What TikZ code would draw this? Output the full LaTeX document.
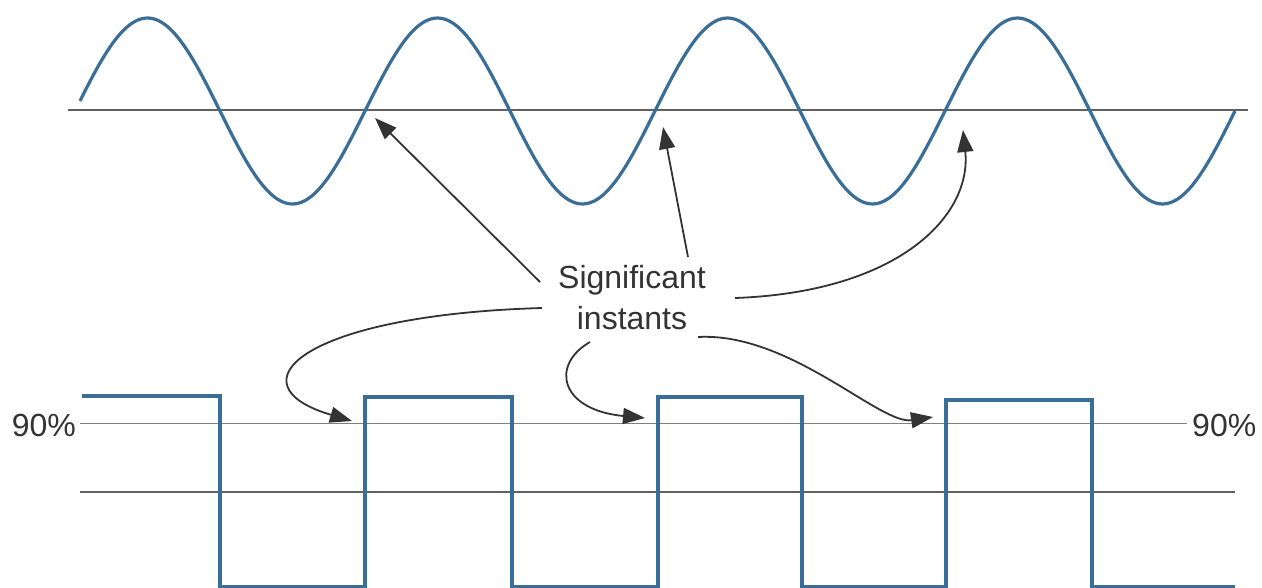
\documentclass[tikz,border=0pt]{standalone}
\usepackage{fontspec}
\setmainfont{Liberation Sans}
\usetikzlibrary{arrows.meta}

\definecolor{wave}{RGB}{58,110,150}
\definecolor{ink}{RGB}{51,51,51}

\begin{document}
\begin{tikzpicture}[
 x=1pt,y=-1pt,
 signal/.style={draw=wave,line width=3.2pt,line join=miter},
 axis/.style={draw=black!62,line width=2pt},
 level/.style={draw=black!50,line width=1pt},
 lbl/.style={font=\fontsize{32}{41}\selectfont,text=ink,inner sep=0pt},
 arrow/.style={draw=ink,line width=1.8pt,-{Triangle[length=22pt,width=16pt]}}
]
\useasboundingbox (0,0) rectangle (1262,587);
% sine signal
\draw[axis] (68,110) -- (1248,110);
\draw[signal] plot[domain=80:1235,samples=320,smooth] (\x,{111-93*sin((\x-75)*1.241379)});
% square signal
\draw[level] (80,423) -- (1187,423);
\draw[axis,line width=2.4pt] (80,492) -- (1235,492);
\draw[signal] (82,396) -- (220,396) -- (220,587) -- (365,587) -- (365,397) -- (512,397)
 -- (512,587) -- (658,587) -- (658,397) -- (802,397) -- (802,587) -- (946,587)
 -- (946,400) -- (1092,400) -- (1092,587) -- (1235,587);
\node[lbl,anchor=east] (pl) at (76,425) {90\%};
\node[lbl,anchor=west] (pr) at (1192,425) {90\%};
% label and arrows
\node[lbl,align=center] (sig) at (632,298) {Significant\\instants};
\coordinate (z1) at (375,118);
\coordinate (z2) at (663,127);
\coordinate (z3) at (963,130);
\coordinate (e1) at (352,421);
\coordinate (e2) at (645,418);
\coordinate (e3) at (933,417);
\coordinate (t1) at (540,282);
\coordinate (t2) at (688,257);
\coordinate (t3) at (735,298);
\coordinate (t4) at (542,308);
\coordinate (t5) at (590,342);
\coordinate (t6) at (698,337);
\draw[arrow] (t1) -- (z1);
\draw[arrow] (t2) -- (z2);
\draw[arrow] (t3) .. controls (900,292) and (972,215) .. (z3);
\draw[arrow] (t4) .. controls (300,315) and (230,385) .. (e1);
\draw[arrow] (t5) .. controls (550,365) and (560,410) .. (e2);
\draw[arrow] (t6) .. controls (790,332) and (880,425) .. (e3);
\end{tikzpicture}
\end{document}
